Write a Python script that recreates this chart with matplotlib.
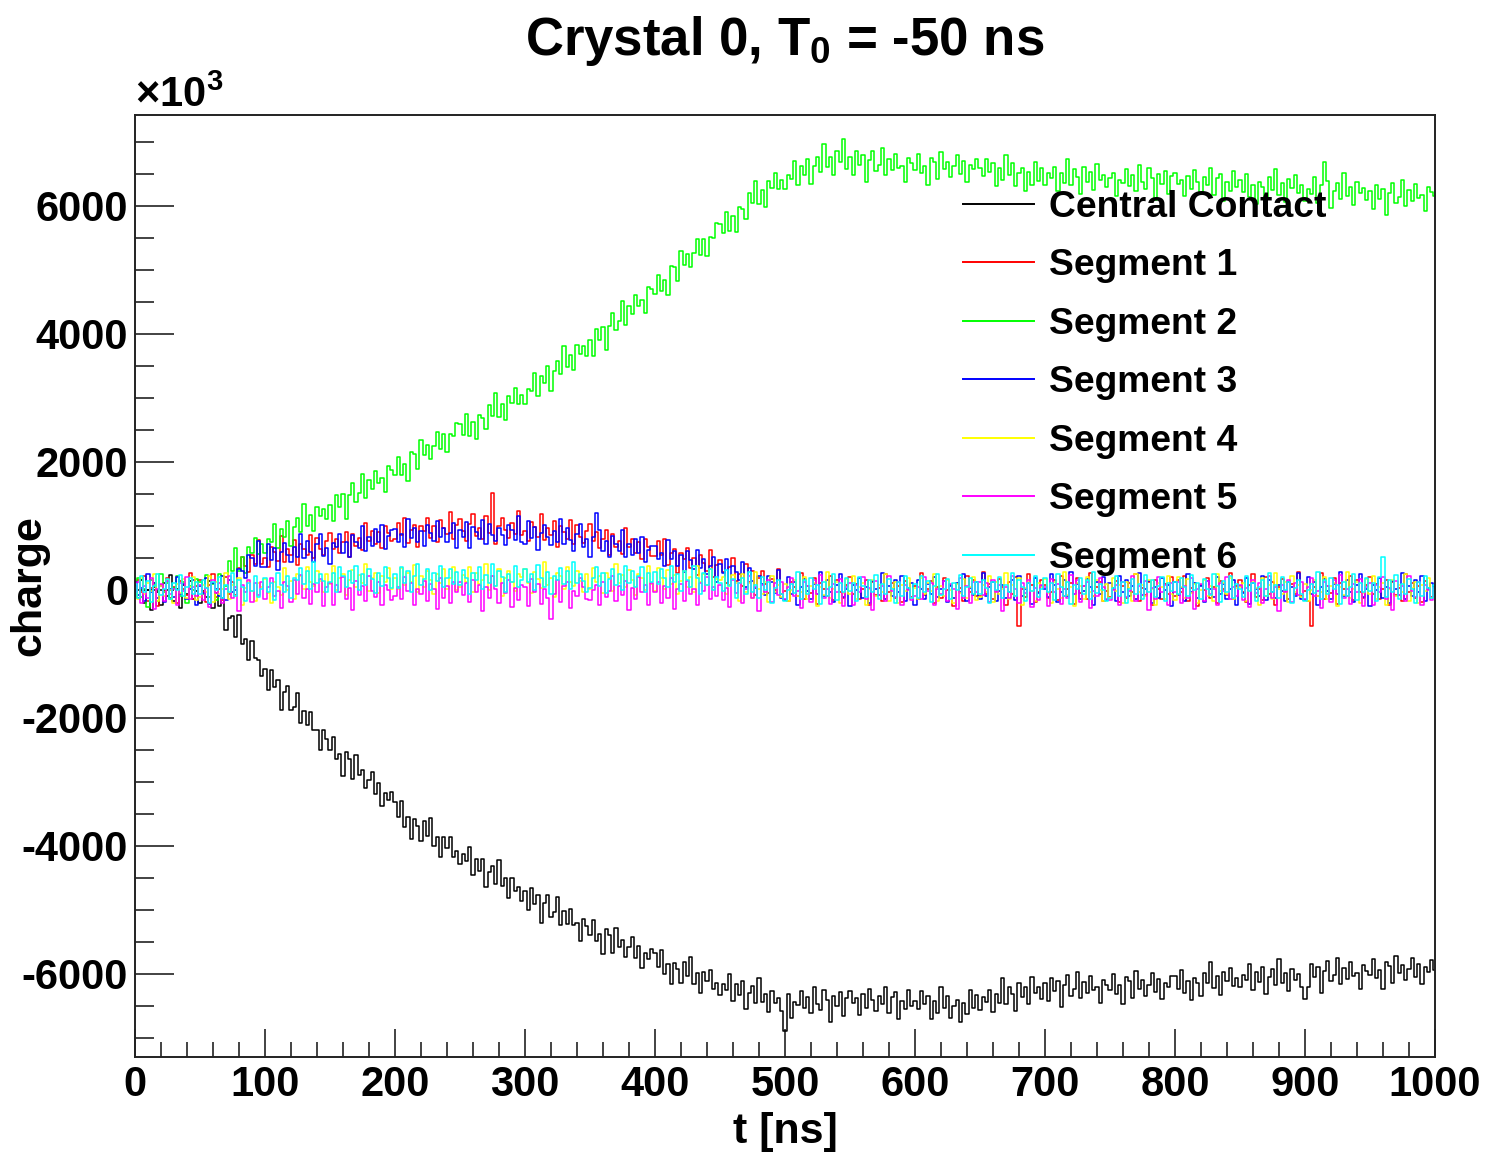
import numpy as np
import matplotlib
matplotlib.use("Agg")
import matplotlib.pyplot as plt
from matplotlib.ticker import MultipleLocator

plt.rcParams['font.family'] = ['Liberation Sans', 'DejaVu Sans']
plt.rcParams['font.weight'] = 'bold'
plt.rcParams['axes.unicode_minus'] = False
plt.rcParams['mathtext.fontset'] = 'custom'
plt.rcParams['mathtext.rm'] = 'Liberation Sans:bold'
plt.rcParams['mathtext.it'] = 'Liberation Sans:bold'
plt.rcParams['mathtext.bf'] = 'Liberation Sans:bold'
plt.rcParams['mathtext.default'] = 'rm'

# time axis, 2.5 ns per sample (one row below = 50 ns)
t_ns = np.arange(0, 1000.1, 2.5)

# charge in units of 1e3
central_contact = [
    70, -130, 160, -200, -10, -310, 40, -40, -240, 110, -90, 230, -170, 10, -280, 80, -60, 140, -140, -20,
    -200, -20, -110, 140, -280, -50, -260, -120, -630, -440, -410, -730, -400, -850, -770, -1100, -800, -1070, -1090, -1350,
    -1230, -1565, -1250, -1520, -1415, -1880, -1600, -1495, -1870, -1830, -1615, -2080, -1890, -2115, -1910, -2190, -2195, -2500, -2190, -2325,
    -2510, -2305, -2650, -2570, -2905, -2530, -2645, -2950, -2580, -2895, -2810, -3095, -2970, -2840, -3185, -3020, -3385, -3170, -3290, -3155,
    -3310, -3550, -3300, -3700, -3550, -3890, -3575, -3690, -3930, -3615, -3850, -3565, -4000, -3855, -4180, -3855, -4030, -3860, -4175, -4085,
    -4290, -4130, -4240, -4015, -4455, -4205, -4395, -4200, -4650, -4410, -4320, -4600, -4225, -4625, -4505, -4815, -4500, -4700, -4650, -4870,
    -4700, -5010, -4665, -4905, -4770, -5210, -4900, -4765, -5115, -5040, -4800, -5240, -5015, -5215, -4980, -5230, -5210, -5485, -5145, -5250,
    -5390, -5165, -5490, -5380, -5695, -5300, -5395, -5680, -5280, -5575, -5470, -5730, -5585, -5430, -5755, -5565, -5910, -5675, -5770, -5610,
    -5680, -5900, -5630, -6010, -5840, -6160, -5825, -5925, -6145, -5815, -6035, -5735, -6155, -5995, -6305, -5965, -6120, -5940, -6240, -6140,
    -6330, -6155, -6250, -6005, -6430, -6160, -6335, -6120, -6555, -6300, -6190, -6455, -6060, -6445, -6310, -6600, -6265, -6450, -6385, -6580,
    -6900, -6320, -6690, -6440, -6490, -6270, -6530, -6360, -6610, -6200, -6470, -6570, -6250, -6410, -6750, -6340, -6500, -6290, -6660, -6380,
    -6270, -6450, -6380, -6640, -6320, -6530, -6230, -6410, -6580, -6340, -6470, -6200, -6620, -6360, -6290, -6710, -6420, -6550, -6250, -6500,
    -6420, -6545, -6270, -6475, -6340, -6705, -6420, -6605, -6210, -6535, -6340, -6695, -6500, -6415, -6760, -6450, -6630, -6260, -6540, -6330,
    -6570, -6370, -6440, -6260, -6600, -6310, -6450, -6070, -6470, -6210, -6320, -6580, -6150, -6370, -6200, -6470, -6050, -6300, -6210, -6390,
    -6150, -6430, -6060, -6270, -6110, -6520, -6180, -6020, -6340, -6240, -5970, -6380, -6130, -6300, -6040, -6260, -6210, -6460, -6090, -6170,
    -6260, -6010, -6310, -6180, -6470, -6050, -6120, -6380, -5960, -6230, -6100, -6340, -6170, -5990, -6290, -6080, -6400, -6140, -6210, -6030,
    -6030, -6230, -5940, -6300, -6110, -6410, -6060, -6140, -6340, -5990, -6140, -5820, -6220, -6040, -6330, -5970, -6110, -5910, -6190, -6070,
    -6210, -6020, -6100, -5840, -6250, -5970, -6130, -5900, -6320, -6050, -5930, -6180, -5770, -6140, -5990, -6270, -5920, -6090, -6010, -6200,
    -6400, -6210, -5840, -6050, -5890, -6300, -5960, -5800, -6120, -6020, -5750, -6160, -5910, -6080, -5820, -6040, -5990, -6240, -5870, -5950,
    -6020, -5770, -6070, -5940, -6230, -5810, -5880, -6140, -5720, -5990, -5860, -6100, -5930, -5750, -6050, -5840, -6160, -5900, -5970, -5790,
    -5940,
]

segment_1 = [
    -90, 160, -40, 220, -170, 30, 110, -250, 70, -10, 190, -120, 50, -200, 140, 20, -80, 260, -150, 60,
    150, -30, -190, 80, 240, -110, 10, -160, 200, -60, 120, -80, 340, 520, 370, 280, 540, 410, 780, 410,
    500, 350, 670, 595, 455, 835, 435, 640, 540, 780, 390, 720, 645, 545, 855, 490, 810, 635, 550, 760,
    890, 640, 800, 580, 740, 900, 520, 880, 690, 810, 620, 1050, 770, 920, 710, 900, 660, 1000, 885, 760,
    790, 1045, 850, 1115, 730, 935, 1020, 665, 990, 915, 1120, 815, 990, 740, 1085, 965, 870, 1210, 800, 1010,
    1100, 920, 760, 1030, 1190, 840, 960, 790, 1150, 890, 1520, 720, 990, 1120, 930, 810, 1040, 880, 1230, 850,
    925, 760, 1065, 980, 825, 1190, 775, 970, 855, 1080, 675, 990, 905, 790, 1085, 710, 1015, 830, 730, 920,
    1030, 760, 900, 660, 800, 940, 540, 880, 670, 770, 560, 970, 670, 800, 570, 740, 480, 800, 670, 530,
    530, 765, 550, 795, 390, 575, 640, 265, 570, 475, 660, 335, 490, 225, 550, 415, 300, 625, 200, 395,
    470, 275, 100, 355, 500, 135, 240, 55, 400, 125, 290, -75, 180, 295, 90, -45, 170, -5, 330, -60,
    -20, -180, 130, 50, -100, 270, -140, 60, -50, 180, -220, 100, 20, -90, 210, -160, 150, -30, -120, 80,
    200, -60, 90, -140, 10, 160, -230, 120, -80, 30, -170, 250, -40, 100, -120, 60, -190, 140, 20, -110,
    60, -150, 260, -80, 20, 140, -200, 50, -120, 190, -10, 70, -250, 110, 30, -170, 220, -40, 160, -90,
    -100, 280, -70, 90, -140, -20, 170, 40, -230, 120, -60, 200, -560, 10, -110, 240, 80, -190, -30, 150,
    80, -120, -30, 150, -160, 210, -90, 20, 100, -220, 180, -50, 60, -140, 270, -100, 50, 130, -180, -20,
    -110, 20, 140, -190, 60, -120, 100, -40, 250, -170, 30, -80, 120, -230, 160, 10, -140, 90, -60, 200,
    -90, 160, -40, 220, -170, 30, 110, -250, 70, -10, 190, -120, 50, -200, 140, 20, -80, 260, -150, 60,
    150, -30, -190, 80, 240, -110, 10, -160, 200, -60, 120, -230, 40, 170, -20, -140, 90, -70, 280, -100,
    -20, -180, -560, 50, -100, 270, -140, 60, -50, 180, -220, 100, 20, -90, 210, -160, 150, -30, -120, 80,
    200, -60, 90, -140, 10, 160, -230, 120, -80, 30, -170, 250, -40, 100, -120, 60, -190, 140, 20, -110,
    -20,
]

segment_2 = [
    -60, 190, -110, 20, -270, 150, 80, -180, 240, -30, 100, -140, 30, 210, -90, 120, -200, 60, -10, 170,
    120, -70, 230, -115, 90, -160, 240, 210, 60, 450, 290, 655, 300, 520, 270, 670, 570, 805, 560, 715,
    580, 795, 745, 1030, 650, 955, 820, 1080, 685, 980, 1130, 905, 1340, 1000, 1175, 920, 1300, 1155, 1260, 1100,
    1330, 1080, 1480, 1300, 1490, 1110, 1480, 1670, 1380, 1510, 1810, 1430, 1710, 1570, 1860, 1670, 1750, 1530, 1930, 1875,
    1790, 2070, 1800, 1960, 1700, 2150, 2115, 1885, 2340, 2100, 2260, 2050, 2250, 2465, 2200, 2440, 2150, 2440, 2400, 2610,
    2590, 2420, 2740, 2410, 2630, 2355, 2735, 2685, 2510, 2890, 2720, 3070, 2700, 2910, 2650, 3035, 2925, 3155, 2900, 3050,
    2910, 3140, 3100, 3395, 3025, 3345, 3225, 3490, 3110, 3420, 3580, 3370, 3815, 3485, 3675, 3435, 3820, 3690, 3810, 3660,
    3900, 3660, 4075, 3910, 4110, 3745, 4130, 4330, 4055, 4195, 4510, 4140, 4435, 4310, 4610, 4435, 4530, 4320, 4730, 4695,
    4630, 4925, 4670, 4845, 4600, 5065, 5040, 4825, 5290, 5070, 5245, 5050, 5265, 5490, 5235, 5490, 5215, 5520, 5500, 5725,
    5720, 5570, 5910, 5600, 5840, 5590, 5990, 5955, 5800, 6195, 6040, 6395, 6030, 6245, 5990, 6385, 6280, 6510, 6260, 6405,
    6260, 6475, 6420, 6705, 6320, 6625, 6490, 6740, 6340, 6630, 6770, 6535, 6960, 6600, 6760, 6490, 6850, 6680, 7040, 6570,
    6770, 6485, 6850, 6635, 6790, 6375, 6710, 6865, 6540, 6635, 6900, 6485, 6730, 6555, 6810, 6585, 6630, 6380, 6750, 6670,
    6560, 6810, 6510, 6620, 6330, 6750, 6680, 6420, 6840, 6570, 6690, 6450, 6620, 6800, 6500, 6700, 6380, 6640, 6570, 6740,
    6590, 6465, 6740, 6535, 6670, 6305, 6590, 6405, 6800, 6475, 6670, 6315, 6510, 6585, 6230, 6525, 6330, 6685, 6390, 6585,
    6320, 6510, 6430, 6600, 6230, 6510, 6360, 6730, 6320, 6570, 6450, 6180, 6600, 6370, 6530, 6250, 6660, 6400, 6480, 6290,
    6440, 6520, 6150, 6400, 6350, 6570, 6310, 6480, 6230, 6640, 6370, 6270, 6590, 6430, 6090, 6500, 6340, 6550, 6180, 6460,
    6520, 6340, 6410, 6150, 6470, 6260, 6560, 6380, 6210, 6450, 6320, 6590, 6170, 6430, 6500, 6080, 6370, 6240, 6540, 6290,
    6410, 6210, 6500, 6140, 6330, 6030, 6380, 6300, 6100, 6450, 6250, 6570, 6170, 6350, 6060, 6420, 6280, 6480, 6200, 6320,
    6080, 6270, 6190, 6450, 6040, 6320, 6680, 6390, 5970, 6240, 6360, 6110, 6520, 6150, 6300, 6020, 6370, 6200, 6280, 6090,
    6230, 5950, 6320, 6110, 6270, 5860, 6200, 6360, 6040, 6140, 6410, 6000, 6250, 6080, 6340, 6120, 6170, 5920, 6290, 6210,
    6150,
]

segment_3 = [
    120, -80, 30, -170, 250, -40, 100, -120, 60, -190, 140, 20, -110, 200, -60, 90, -140, 10, 160, -230,
    60, -50, 180, -220, 100, 20, -90, 210, -160, 150, -30, 0, 330, 300, 190, 540, 490, 370, 760, 360,
    350, 720, 465, 655, 310, 590, 730, 545, 435, 670, 520, 875, 505, 760, 590, 435, 710, 875, 530, 655,
    405, 735, 665, 875, 570, 750, 510, 860, 750, 660, 1005, 605, 825, 685, 945, 750, 1020, 640, 845, 930,
    950, 755, 870, 675, 1100, 815, 960, 740, 925, 680, 1010, 895, 765, 1080, 820, 970, 740, 890, 1040, 650,
    940, 830, 1060, 660, 980, 900, 790, 1090, 720, 1030, 850, 760, 960, 860, 700, 1010, 930, 780, 1150, 740,
    715, 1070, 805, 980, 625, 890, 1015, 820, 695, 920, 755, 1100, 715, 960, 775, 610, 875, 1030, 675, 790,
    520, 830, 1200, 930, 610, 770, 510, 840, 710, 600, 930, 510, 710, 550, 790, 580, 830, 430, 620, 690,
    690, 480, 580, 370, 780, 480, 610, 380, 550, 285, 600, 465, 320, 615, 340, 480, 240, 380, 520, 120,
    400, 270, 485, 70, 370, 275, 150, 430, 40, 335, 140, 30, 215, 95, -80, 210, 115, -50, 305, -120,
    -160, 200, -60, 120, -230, 40, 170, -20, -140, 90, -70, 280, -100, 150, -30, -190, 80, 240, -110, 10,
    -250, 70, -10, 190, -120, 50, -200, 140, 20, -80, 260, -150, 60, -90, 160, -40, 220, -170, 30, 110,
    -230, 160, 10, -140, 90, -60, 200, -110, 20, 140, -190, 60, -120, 100, -40, 250, -170, 30, -80, 120,
    -140, 270, -100, 50, 130, -180, -20, 80, -120, -30, 150, -160, 210, -90, 20, 100, -220, 180, -50, 60,
    10, -110, 240, 80, -190, -30, 150, -100, 280, -70, 90, -140, -20, 170, 40, -230, 120, -60, 200, -160,
    110, 30, -170, 220, -40, 160, -90, 60, -150, 260, -80, 20, 140, -200, 50, -120, 190, -10, 70, -250,
    120, -80, 30, -170, 250, -40, 100, -120, 60, -190, 140, 20, -110, 200, -60, 90, -140, 10, 160, -230,
    60, -50, 180, -220, 100, 20, -90, 210, -160, 150, -30, -120, 80, -20, -180, 130, 50, -100, 270, -140,
    -160, 200, -60, 120, -230, 40, 170, -20, -140, 90, -70, 280, -100, 150, -30, -190, 80, 240, -110, 10,
    -250, 70, -10, 190, -120, 50, -200, 140, 20, -80, 260, -150, 60, -90, 160, -40, 220, -170, 30, 110,
    40,
]

segment_4 = [
    30, -140, 190, -70, 110, -20, 240, -180, 60, -100, 150, 0, -210, 90, -50, 170, -130, 40, 200, -160,
    -110, 80, -30, 210, -190, 120, -60, 10, 260, -150, 70, -90, 180, -240, 30, 140, -20, -170, 100, 50,
    170, -50, -200, 130, 40, -80, 340, 0, 140, -140, 250, 210, 10, 350, 120, 60, 300, 140, -30, 240,
    90, 370, 0, 190, 250, -80, 160, 310, 50, 230, 110, 400, -20, 180, 270, -50, 220, 130, 340, 20,
    180, 10, 340, 80, 260, 130, 390, -30, 210, 50, 300, 150, -60, 240, 100, 320, 20, 190, 350, -10,
    40, 230, 120, 360, -40, 270, 90, 160, 410, 0, 220, 60, 330, -90, 180, 290, 130, -20, 250, 200,
    320, 100, -50, 280, 170, 30, 430, 70, 190, -110, 260, 210, 10, 350, 120, 60, 300, 140, -30, 240,
    20, 340, 130, 220, -50, 270, 180, -20, 400, 110, 230, 50, 310, 160, -80, 250, 190, 0, 370, 90,
    -20, 340, 180, 10, 310, 90, 230, -70, 140, 290, 40, 200, -40, 380, 120, 250, 70, 330, 0, 170,
    160, 205, -70, 75, 230, 110, -170, 240, -40, 110, -120, 280, 20, -60, 120, -190, 210, -30, 80, -110,
    90, -180, -10, 150, -90, -30, 200, -140, 60, 110, -260, 40, -80, 280, -120, 20, 130, -200, -50, 170,
    -60, 220, -150, 40, 100, -230, 10, 160, -100, 80, -40, 250, -170, 30, 120, -200, 70, -20, 190, -130,
    30, -140, 190, -70, 110, -20, 240, -180, 60, -100, 150, 0, -210, 90, -50, 170, -130, 40, 200, -160,
    -110, 80, -30, 210, -190, 120, -60, 10, 260, -150, 70, -90, 180, -240, 30, 140, -20, -170, 100, 50,
    170, -50, -200, 130, 20, -120, 280, -80, 40, -260, 110, 60, -140, 200, -30, -90, 150, -10, -180, 90,
    -130, 190, -20, 70, -200, 120, 30, -170, 250, -40, 80, -100, 160, 10, -230, 100, 40, -150, 220, -60,
    -160, 200, 40, -130, 170, -50, 90, -210, 0, 150, -100, 60, -180, 240, -20, 110, -70, 190, -140, 30,
    50, 100, -170, -20, 140, 30, -240, 180, -90, 70, -150, 260, 10, -60, 120, -190, 210, -30, 80, -110,
    90, -180, -10, 150, -90, -30, 200, -140, 60, 110, -260, 40, -80, 280, -120, 20, 130, -200, -50, 170,
    -60, 220, -150, 40, 100, -230, 10, 160, -100, 80, -40, 250, -170, 30, 120, -200, 70, -20, 190, -130,
    -30,
]

segment_5 = [
    -40, 120, -210, 60, -130, 180, -300, 20, 90, -170, 140, -60, 10, -240, 100, -20, 200, -150, 50, -90,
    80, -160, 30, -270, 150, -50, 110, -200, 10, 220, -120, 40, -330, 70, -30, 160, -190, 100, -80, 130,
    -150, 40, 190, -100, -20, -280, 120, 60, -190, 150, -70, 230, -130, 20, -220, 90, -40, 170, -260, 50,
    110, -230, 70, -40, 200, -150, 30, -310, 140, -80, 60, -170, 210, -20, -110, 130, -240, 80, 0, -160,
    -90, 50, -150, 200, -20, 100, -240, 10, -60, 140, -170, 90, 20, -300, 180, -130, 60, -210, 120, -40,
    130, -80, 100, -190, 160, -30, 70, -330, 40, -120, 220, 10, -200, 110, -50, 150, -270, 30, -160, 80,
    50, -260, 170, -40, 90, -220, 20, -130, -450, -70, 150, -190, 60, 120, -280, -20, -100, 190, 40, -150,
    -160, 0, 80, -240, 130, -110, -20, 210, -170, 60, -80, 140, -310, 30, -150, 200, -40, 70, -230, 110,
    -40, 120, -210, 60, -130, 180, -300, 20, 90, -170, 140, -60, 10, -240, 100, -20, 200, -150, 50, -90,
    80, -160, 30, -270, 150, -50, 110, -200, 10, 220, -120, 40, -330, 70, -30, 160, -190, 100, -80, 130,
    -150, 40, 190, -100, -20, -280, 120, 60, -190, 150, -70, 230, -130, 20, -220, 90, -40, 170, -260, 50,
    110, -230, 70, -40, 200, -150, 30, -310, 140, -80, 60, -170, 210, -20, -110, 130, -240, 80, 0, -160,
    -90, 50, -150, 200, -20, 100, -240, 10, -60, 140, -170, 90, 20, -300, 180, -130, 60, -210, 120, -40,
    130, -80, 100, -190, 160, -30, 70, -330, 40, -120, 220, 10, -200, 110, -50, 150, -270, 30, -160, 80,
    50, -260, 170, -40, 90, -220, 20, -130, 230, -70, 150, -190, 60, 120, -280, -20, -100, 190, 40, -150,
    -160, 0, 80, -240, 130, -110, -20, 210, -170, 60, -80, 140, -310, 30, -150, 200, -40, 70, -230, 110,
    -40, 120, -210, 60, -130, 180, -300, 20, 90, -170, 140, -60, 10, -240, 100, -20, 200, -150, 50, -90,
    80, -160, 30, -270, 150, -50, 110, -200, 10, 220, -120, 40, -330, 70, -30, 160, -190, 100, -80, 130,
    -150, 40, 190, -100, -20, -280, 120, 60, -190, 150, -70, 230, -130, 20, -220, 90, -40, 170, -260, 50,
    110, -230, 70, -40, 200, -150, 30, -310, 140, -80, 60, -170, 210, -20, -110, 130, -240, 80, 0, -160,
    30,
]

segment_6 = [
    90, -120, 210, -40, 140, -190, 60, 250, -80, 20, 170, -150, 110, -10, 230, -100, 40, 180, -60, 130,
    -70, 160, 30, -210, 120, 0, 200, -130, 80, -40, 260, -90, 150, 50, -180, 100, -20, 220, -110, 10,
    180, -30, 100, -160, 260, 80, -40, 210, -120, 190, 150, 340, 90, 300, 10, 430, 100, 240, 140, -30,
    130, 260, -30, 350, 210, 40, 300, 110, 380, 0, 240, 80, 320, 170, -50, 270, 60, 360, 180, 30,
    240, 30, 360, 110, 290, -40, 210, 400, 70, 170, 320, 0, 260, 140, 380, 50, 190, 330, 90, 280,
    80, 310, 180, -60, 270, 150, 350, 20, 230, 110, 410, 60, 300, 200, -30, 250, 130, 370, 40, 160,
    330, 120, 250, -10, 390, 190, 50, 280, -70, 220, 160, 340, 90, 300, 10, 430, 100, 240, 140, -30,
    30, 180, 360, 60, 270, -50, 170, 320, 80, 240, 0, 380, 110, 300, 40, 210, 350, -30, 260, 130,
    280, 90, 330, 180, 40, 370, 130, 240, -20, 300, 150, 50, 380, 190, -60, 260, 80, 330, 0, 200,
    110, -15, 310, 60, 170, -120, 100, 190, -60, 280, -30, 80, -130, 200, 0, 120, -210, 30, 160, -70,
    -180, -10, 90, -50, 280, -140, 150, -60, 190, 10, 70, -220, 130, -100, 40, 240, -160, 100, -30, 180,
    -20, 110, -180, 200, 60, -110, 150, -40, 230, -150, 90, -70, 170, 20, -200, 120, -90, 210, 30, -120,
    90, -120, 210, -40, 140, -190, 60, 250, -80, 20, 170, -150, 110, -10, 230, -100, 40, 180, -60, 130,
    -70, 160, 30, -210, 120, 0, 200, -130, 80, -40, 260, -90, 150, 50, -180, 100, -20, 220, -110, 10,
    180, -30, 100, -160, 240, 40, -100, 130, -220, 70, 10, 190, -60, 150, -140, 280, -50, 90, -10, -180,
    -120, 30, 210, -90, 120, -200, 20, 170, -70, 90, -150, 230, -40, 150, -110, 60, 200, -180, 110, -20,
    130, -60, 180, 40, -100, 230, -10, 110, -150, 170, 20, -80, 250, 60, -190, 140, -40, 210, -120, 90,
    10, -110, 220, -20, 100, -180, 50, 150, -90, 260, -40, 80, -130, 200, 0, 120, -210, 30, 160, -70,
    -180, -10, 90, -50, 280, -140, 150, -60, 190, 10, 70, -220, 130, -100, 40, 240, -160, 100, -30, 180,
    -20, 110, -180, 200, 520, -110, 150, -40, 230, -150, 90, -70, 170, 20, -200, 120, -90, 210, 30, -120,
    70,
]

labels = ["Central Contact", "Segment 1", "Segment 2", "Segment 3",
          "Segment 4", "Segment 5", "Segment 6"]
colors = ["#000000", "#ff0000", "#00ff00", "#0000ff",
          "#ffff00", "#ff00ff", "#00ffff"]
traces = [central_contact, segment_1, segment_2, segment_3,
          segment_4, segment_5, segment_6]

W, H = 1486, 1155
fig = plt.figure(figsize=(W / 100, H / 100), dpi=100)
ax = fig.add_axes([135 / W, 1 - 1057 / H, 1300 / W, 942 / H])

for y, c, lab in zip(traces, colors, labels):
    ax.plot(t_ns, y, drawstyle="steps-mid", color=c, lw=1.1, label=lab)

ax.set_xlim(0, 1000)
ax.set_ylim(-7300, 7420)
ax.xaxis.set_major_locator(MultipleLocator(100))
ax.xaxis.set_minor_locator(MultipleLocator(20))
ax.yaxis.set_major_locator(MultipleLocator(2000))
ax.yaxis.set_minor_locator(MultipleLocator(500))

for s in ax.spines.values():
    s.set_linewidth(1.4)
    s.set_color("#222222")
ax.tick_params(axis="y", which="major", direction="in", length=28, width=1.2,
               labelsize=30, pad=5, color="#222222")
ax.tick_params(axis="y", which="minor", direction="in", length=14, width=1.2,
               color="#222222")
ax.tick_params(axis="x", which="major", direction="in", length=20, width=1.2,
               labelsize=30, pad=6, color="#222222")
ax.tick_params(axis="x", which="minor", direction="in", length=11, width=1.2,
               color="#222222")
for lbl in ax.get_xticklabels() + ax.get_yticklabels():
    lbl.set_fontweight("bold")

ax.set_xlabel("t [ns]", fontsize=31, fontweight="bold", labelpad=5)
ax.set_ylabel("charge", fontsize=31, fontweight="bold")
ax.yaxis.set_label_coords(-0.066, 0.5)

leg = ax.legend(loc="upper left", bbox_to_anchor=(963 / W, 1 - 190 / H),
                bbox_transform=fig.transFigure, frameon=False,
                prop={"size": 26.8, "weight": "bold"},
                handlelength=1.9, handletextpad=0.4, labelspacing=0.63,
                borderpad=0, borderaxespad=0)
for line in leg.get_lines():
    line.set_linewidth(1.4)

fig.text(785 / W, 1 - 55 / H, r"Crystal 0, T$_{0}$ = -50 ns",
         fontsize=38, fontweight="bold", ha="center", va="baseline")
fig.text(135 / W, 1 - 107 / H, r"$\times$10$^{3}$",
         fontsize=30, fontweight="bold", ha="left", va="baseline")

fig.savefig("out.png", dpi=100)
